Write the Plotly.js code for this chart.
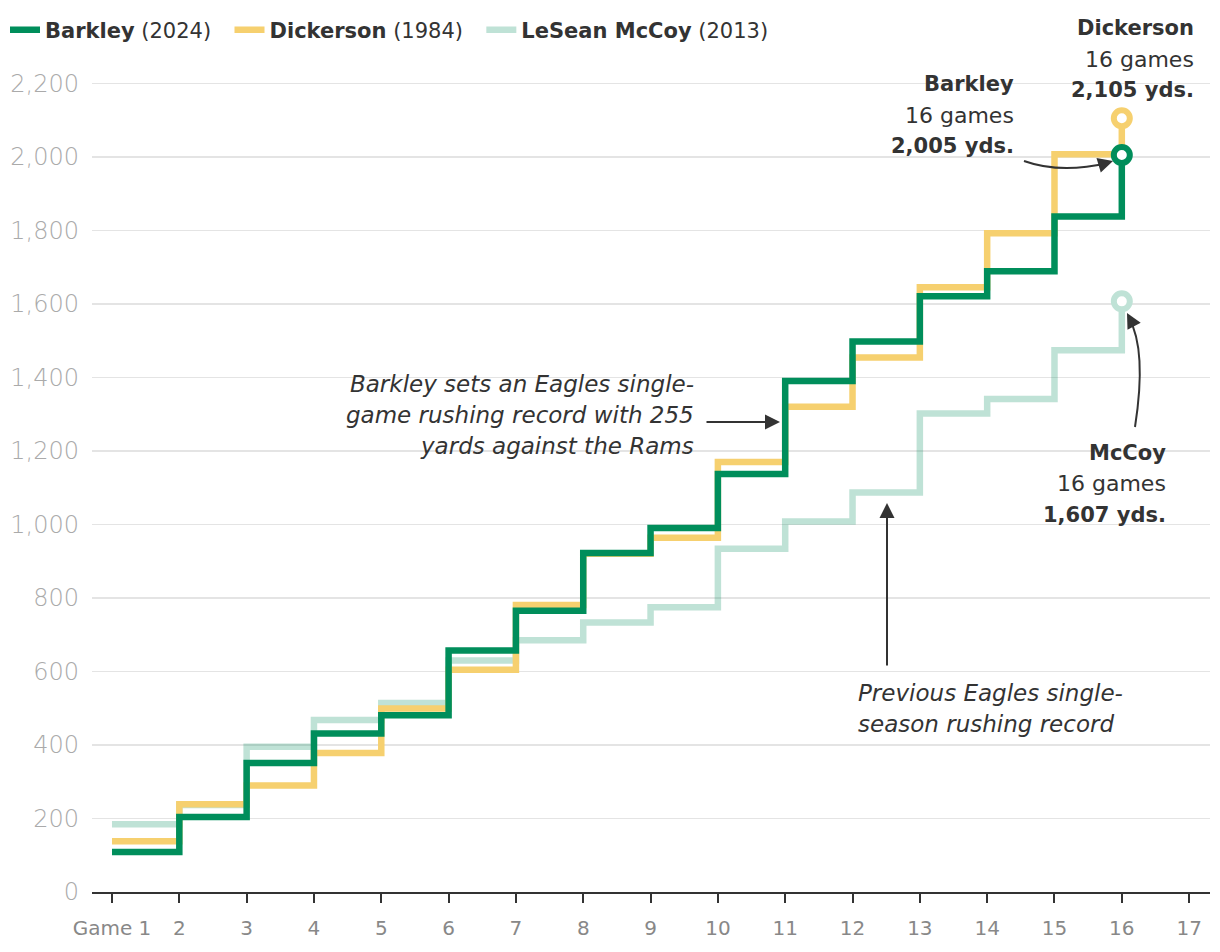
<!DOCTYPE html>
<html><head><meta charset="utf-8">
<script src="https://cdn.plot.ly/plotly-3.0.1.min.js"></script>
<style>html,body{margin:0;padding:0;background:#fff}#chart{width:1220px;height:952px}</style>
</head><body><div id="chart"></div>
<script>
const games = [1,2,3,4,5,6,7,8,9,10,11,12,13,14,15,16];
const barkley = [109,204,351,431,481,657,765,922,990,1137,1390,1498,1621,1689,1838,2005];
const dickerson = [138,239,290,378,499,605,781,920,964,1170,1320,1454,1645,1792,2007,2105];
const mccoy = [184,237,395,468,514,630,685,733,775,934,1008,1087,1302,1341,1474,1607];
const seriesNames = ['<b>Barkley</b> (2024)','<b>Dickerson</b> (1984)','<b>LeSean McCoy</b> (2013)'];
const xTickVals = [1,2,3,4,5,6,7,8,9,10,11,12,13,14,15,16,17];
const xTickText = ['Game 1','2','3','4','5','6','7','8','9','10','11','12','13','14','15','16','17'];
const yTickVals = [0,200,400,600,800,1000,1200,1400,1600,1800,2000,2200];

const GREEN = '#008E5B', YELLOW = '#F6D06F', MC = 'rgba(0,140,90,0.25)', MCSOLID = '#BFE2D6';
const FONT = '"DejaVu Sans", sans-serif';
const TXT = '#333333';
const PAD = '\u00a0\u00a0'; // extra gap between legend entries

// pixel -> data / paper helpers for annotation placement
const X0PX = 92, X1PX = 1210, XR = [0.703, 17.31];
const Y0PX = 892, Y1PX = 65, YR = [0, 2250];
const px2x = p => XR[0] + (p - X0PX) / (X1PX - X0PX) * (XR[1] - XR[0]);
const py2y = p => YR[0] + (Y0PX - p) / (Y0PX - Y1PX) * (YR[1] - YR[0]);
const px2p = p => (p - X0PX) / (X1PX - X0PX);
const py2p = p => (Y0PX - p) / (Y0PX - Y1PX);

function lineTrace(y, name, color) {
  return {x: games, y: y, name: name, type: 'scatter', mode: 'lines',
    line: {shape: 'hv', color: color, width: 6.5}, hoverinfo: 'skip'};
}
function endMarker(y, color) {
  const n = y.length - 1;
  return {x: [games[n]], y: [y[n]], type: 'scatter', mode: 'markers', showlegend: false,
    marker: {size: 16, color: '#ffffff', line: {color: color, width: 6}}, hoverinfo: 'skip'};
}

const data = [
  lineTrace(mccoy, seriesNames[2], MC),
  lineTrace(dickerson, seriesNames[1] + PAD, YELLOW),
  lineTrace(barkley, seriesNames[0] + PAD, GREEN),
  endMarker(mccoy, MCSOLID),
  endMarker(dickerson, YELLOW),
  endMarker(barkley, GREEN)
];

const ann = [];
// one annotation per line so the line spacing matches
function textBlock(lines, pxX, firstY, xanchor, italic, sizes) {
  lines.forEach((t, i) => {
    ann.push({x: px2p(pxX), y: py2p(firstY + i * 31), xref: 'paper', yref: 'paper', text: t, showarrow: false,
      xanchor: xanchor, yanchor: 'middle', align: xanchor,
      font: {family: FONT, size: sizes[i], color: TXT, style: italic ? 'italic' : 'normal'}});
  });
}
function arrowAnn(tailX, tailY, tipX, tipY) {
  ann.push({x: px2x(tipX), y: py2y(tipY), ax: px2x(tailX), ay: py2y(tailY), xref: 'x', yref: 'y',
    axref: 'x', ayref: 'y', text: '', showarrow: true, arrowhead: 2, arrowsize: 1.5,
    arrowwidth: 2, arrowcolor: TXT, standoff: 0});
}
const LBL = [21, 22, 21];
textBlock(['<b>Dickerson</b>', '16 games', '<b>2,105 yds.</b>'], 1196, 28, 'right', false, LBL);
textBlock(['<b>Barkley</b>', '16 games', '<b>2,005 yds.</b>'], 1016, 84, 'right', false, LBL);
textBlock(['<b>McCoy</b>', '16 games', '<b>1,607 yds.</b>'], 1168, 453, 'right', false, LBL);
textBlock(['Barkley sets an Eagles single-', 'game rushing record with 255', 'yards against the Rams'], 696, 384, 'right', true, [23, 23, 23]);
textBlock(['Previous Eagles single-', 'season rushing record'], 856, 693, 'left', true, [23, 23]);
arrowAnn(705, 422, 780, 422);
arrowAnn(887, 667, 887, 503);
arrowAnn(1134, 326, 1127, 313);
arrowAnn(1103, 164, 1113, 161);

const curve = (s, c, e) => 'M' + px2x(s[0]) + ',' + py2y(s[1]) + ' Q' + px2x(c[0]) + ',' + py2y(c[1]) + ' ' + px2x(e[0]) + ',' + py2y(e[1]);
const shapes = [
  {type: 'path', xref: 'x', yref: 'y', path: curve([1135,427],[1147,350],[1129,318]), line: {color: TXT, width: 2}},
  {type: 'path', xref: 'x', yref: 'y', path: curve([1024,161],[1060,174],[1108,163]), line: {color: TXT, width: 2}}
];

const layout = {
  width: 1220, height: 952,
  margin: {l: 92, r: 10, t: 65, b: 60},
  paper_bgcolor: '#ffffff', plot_bgcolor: '#ffffff',
  font: {family: FONT, color: TXT},
  showlegend: true,
  legend: {orientation: 'h', xref: 'container', yref: 'container', x: 5 / 1220, y: 1 - 30 / 952,
    xanchor: 'left', yanchor: 'middle', traceorder: 'reversed',
    font: {family: FONT, size: 21, color: TXT}, itemwidth: 30},
  xaxis: {range: XR, tickvals: xTickVals, ticktext: xTickText, showgrid: false, zeroline: false,
    showline: true, linecolor: '#333', linewidth: 2, ticks: 'outside', ticklen: 9, tickwidth: 2, tickcolor: '#333',
    ticklabelstandoff: 8, tickfont: {family: FONT, size: 20, color: '#888'}, fixedrange: true},
  yaxis: {range: YR, tickvals: yTickVals, tickformat: ',d', showgrid: true, gridcolor: '#e4e4e4', gridwidth: 1.5,
    zeroline: false, showline: false, ticks: '', ticklabelstandoff: 12,
    tickfont: {family: FONT, size: 24, color: '#aaa', weight: 300}, fixedrange: true},
  annotations: ann,
  shapes: shapes
};
Plotly.newPlot('chart', data, layout, {displayModeBar: false, staticPlot: true});
</script></body></html>
